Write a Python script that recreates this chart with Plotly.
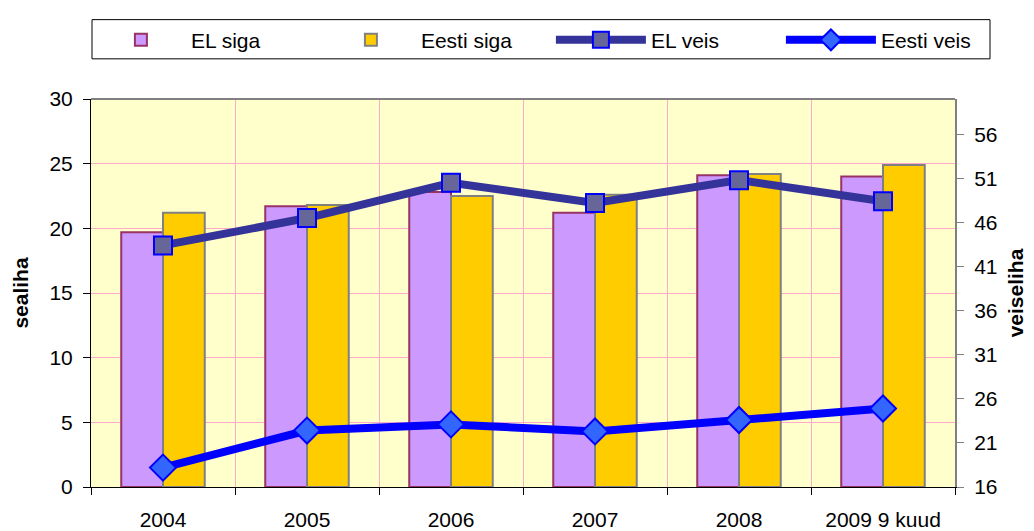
import plotly.graph_objects as go

categories = ["2004", "2005", "2006", "2007", "2008", "2009 9 kuud"]
el_siga = [19.7, 21.7, 22.8, 21.2, 24.1, 24.0]
eesti_siga = [21.2, 21.8, 22.5, 22.6, 24.2, 24.9]
el_veis = [43.4, 46.5, 50.5, 48.2, 50.8, 48.4]
eesti_veis = [18.2, 22.4, 23.1, 22.3, 23.6, 24.9]
right_ticks = [16, 21, 26, 31, 36, 41, 46, 51, 56]

FONT = "Liberation Sans, Arial, sans-serif"
FS = 21

fig = go.Figure()
fig.add_trace(go.Bar(x=categories, y=el_siga, name="EL siga",
                     marker=dict(color="#CC99FF", line=dict(color="#993366", width=2))))
fig.add_trace(go.Bar(x=categories, y=eesti_siga, name="Eesti siga",
                     marker=dict(color="#FFCC00", line=dict(color="#808080", width=2))))
fig.add_trace(go.Scatter(x=categories, y=el_veis, name="EL veis", yaxis="y2",
                         mode="lines+markers",
                         line=dict(color="#333399", width=8),
                         marker=dict(symbol="square", size=18, color="#666699",
                                     line=dict(color="#0000FF", width=2))))
fig.add_trace(go.Scatter(x=categories, y=eesti_veis, name="Eesti veis", yaxis="y2",
                         mode="lines+markers",
                         line=dict(color="#0000FF", width=8),
                         marker=dict(symbol="diamond", size=20, color="#3366FF",
                                     line=dict(color="#0000FF", width=2))))

# page body has an 8px margin: shrink the figure so the plot lands where the reference has it
fig.update_layout(
    width=1026, height=523,
    margin=dict(l=83, r=79, t=83, b=44),
    paper_bgcolor="white",
    plot_bgcolor="#FFFFCC",
    font=dict(family=FONT, size=FS, color="black"),
    barmode="group",
    bargap=0.42,
    bargroupgap=0,
    showlegend=True,
    legend=dict(orientation="h", x=-0.0001, xanchor="left", y=1.1515, yanchor="middle",
                borderwidth=0, bgcolor="rgba(0,0,0,0)",
                font=dict(family=FONT, size=FS),
                itemwidth=90,
                entrywidth=125, entrywidthmode="pixels",
                traceorder="normal"),
    xaxis=dict(type="category", tickson="boundaries", ticks="outside", ticklen=7,
               tickcolor="black", showline=True, linecolor="black", linewidth=1,
               showgrid=True, gridcolor="#FFAACC", gridwidth=1,
               ticklabelstandoff=14, tickfont=dict(size=FS), automargin=False),
    yaxis=dict(range=[0, 30], dtick=5, ticks="outside", ticklen=7, tickcolor="black",
               showline=True, linecolor="black", linewidth=1,
               showgrid=True, gridcolor="#FFAACC", gridwidth=1, zeroline=False,
               ticklabelstandoff=6, automargin=False,
               title=dict(text="<b>sealiha</b>", font=dict(size=FS), standoff=15),
               tickfont=dict(size=FS)),
    yaxis2=dict(range=[16, 60], tickvals=right_ticks, overlaying="y", side="right",
                ticks="outside", ticklen=7, tickcolor="#808080",
                showline=True, linecolor="#808080", linewidth=2, showgrid=False,
                zeroline=False, ticklabelstandoff=6, automargin=False,
                title=dict(text="<b>veiseliha</b>", font=dict(size=FS), standoff=12),
                tickfont=dict(size=FS)),
)
# top border of plot area
fig.add_shape(type="line", xref="paper", yref="paper", x0=0, x1=1, y0=1, y1=1,
              line=dict(color="#808080", width=2))
# legend frame
fig.add_shape(type="rect", xref="paper", yref="paper",
              x0=1 / 864, x1=(990 - 91) / 864, y0=(487 - 50) / 396, y1=(487 - 10) / 396,
              line=dict(color="black", width=1), fillcolor="white", layer="below")

fig.write_html("out.html")
